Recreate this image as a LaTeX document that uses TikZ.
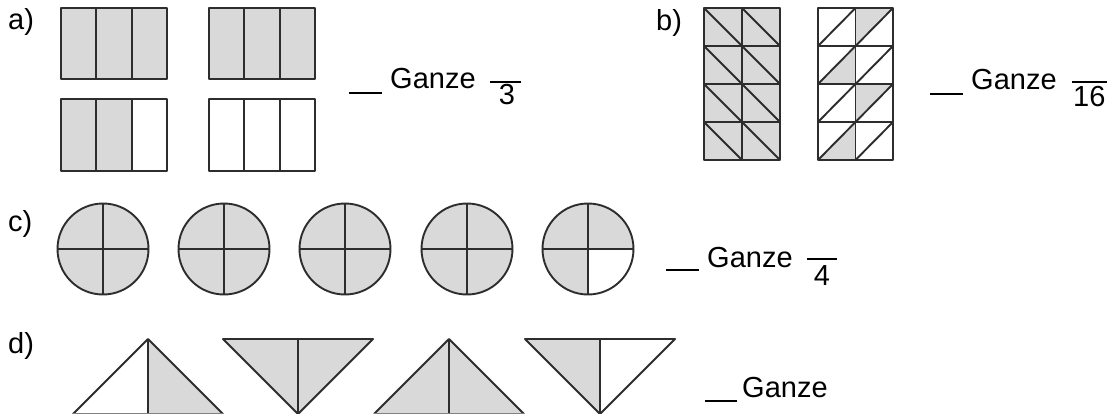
\documentclass[tikz,border=0pt]{standalone}
\usepackage{fontspec}
\usetikzlibrary{calc}
\setmainfont{Liberation Sans}
\definecolor{shade}{RGB}{217,217,217}
\definecolor{ink}{RGB}{45,45,45}
\begin{document}
\begin{tikzpicture}[x=1pt,y=-1pt,
  outl/.style={draw=ink,line width=1.9pt,line join=round},
  sh/.style={fill=shade},
  wh/.style={fill=white},
  lbl/.style={anchor=base west,inner sep=0pt,font=\fontsize{29}{31}\selectfont,text=black},
  blank/.style={draw=black,line width=2.6pt},
  fbar/.style={draw=black,line width=1.9pt}]
\useasboundingbox[fill=white] (0,0) rectangle (1107,414);
\clip (0,0) rectangle (1107,414);
% ---------- a) ----------
\node[lbl] (la) at (8,30) {a)};
\def\w{35.333}
% top row: both fully shaded
\foreach \x in {61,209}{
  \fill[sh] (\x,8) rectangle ++(106,71);
  \foreach \i in {1,2} \draw[outl] (\x+\i*\w,8) -- (\x+\i*\w,79);
  \draw[outl] (\x,8) rectangle ++(106,71);
}
% bottom left: 2 of 3 shaded
\fill[sh] (61,99) rectangle (61+2*\w,171);
\foreach \i in {1,2} \draw[outl] (61+\i*\w,99) -- (61+\i*\w,171);
\draw[outl] (61,99) rectangle (167,171);
% bottom right: none shaded
\foreach \i in {1,2} \draw[outl] (209+\i*\w,99) -- (209+\i*\w,171);
\draw[outl] (209,99) rectangle (315,171);
\draw[blank] (349,93) -- (382,93);
\node[lbl] (ga) at (390,89) {Ganze};
\draw[fbar] (490,82) -- (521,82);
\node[lbl,anchor=base] (da) at (507,105) {3};
% ---------- b) ----------
\node[lbl] (lb) at (656,31) {b)};
% left grid: all shaded, diagonals "\"
\fill[sh] (704,8) rectangle (780,160);
\foreach \r in {0,1,2,3}{
  \foreach \c in {0,1}{
    \draw[outl] (704+\c*38,8+\r*38) -- (704+\c*38+38,8+\r*38+38);
  }
}
\foreach \r in {1,2,3} \draw[outl] (704,8+\r*38) -- (780,8+\r*38);
\draw[outl] (742,8) -- (742,160);
\draw[outl] (704,8) rectangle (780,160);
% right grid: diagonals "/", 4 triangles shaded
\def\bw{37.5}
\fill[sh] (818+\bw,8) -- (818+2*\bw,8) -- (818+\bw,46) -- cycle;
\fill[sh] (818+\bw,46) -- (818+\bw,84) -- (818,84) -- cycle;
\fill[sh] (818+\bw,84) -- (818+2*\bw,84) -- (818+\bw,122) -- cycle;
\fill[sh] (818+\bw,122) -- (818+\bw,160) -- (818,160) -- cycle;
\foreach \r in {0,1,2,3}{
  \foreach \c in {0,1}{
    \draw[outl] (818+\c*\bw,8+\r*38+38) -- (818+\c*\bw+\bw,8+\r*38);
  }
}
\foreach \r in {1,2,3} \draw[outl] (818,8+\r*38) -- (893,8+\r*38);
\draw[outl] (818+\bw,8) -- (818+\bw,160);
\draw[outl] (818,8) rectangle (893,160);
\draw[blank] (930,94) -- (963,94);
\node[lbl] (gb) at (971,90) {Ganze};
\draw[fbar] (1072,82) -- (1107,82);
\node[lbl] (db) at (1073,107) {16};
% ---------- c) ----------
\node[lbl] (lc) at (8,231) {c)};
\foreach \cx [count=\k] in {103,224,345,467,588}{
  \coordinate (c\k) at (\cx,249);
  \fill[sh] (c\k) circle[radius=45.5];
}
\fill[wh] (c5) -- ++(45.5,0) arc[start angle=0,end angle=90,radius=45.5] -- cycle;
\foreach \k in {1,...,5}{
  \draw[outl] ($(c\k)+(-45.5,0)$) -- ++(91,0);
  \draw[outl] ($(c\k)+(0,-45.5)$) -- ++(0,91);
  \draw[outl] (c\k) circle[radius=45.5];
}
\draw[blank] (666,270) -- (699,270);
\node[lbl] (gc) at (707,267) {Ganze};
\draw[fbar] (807,259) -- (837,259);
\node[lbl,anchor=base] (dc) at (822,285) {4};
% ---------- d) ----------
\node[lbl] (ld) at (8,353) {d)};
% triangle 1 (up): right half shaded
\fill[sh] (148,339) -- (223,414) -- (148,414) -- cycle;
\draw[outl] (73,414) -- (148,339) -- (223,414);
\draw[outl] (148,339) -- (148,414);
% triangle 2 (down): all shaded
\fill[sh] (223,339) -- (373,339) -- (298,414) -- cycle;
\draw[outl] (223,339) -- (373,339) -- (298,414) -- cycle;
\draw[outl] (298,339) -- (298,414);
% triangle 3 (up): all shaded
\fill[sh] (374,414) -- (449,339) -- (524,414) -- cycle;
\draw[outl] (374,414) -- (449,339) -- (524,414);
\draw[outl] (449,339) -- (449,414);
% triangle 4 (down): left half shaded
\fill[sh] (525,339) -- (600,339) -- (600,414) -- cycle;
\draw[outl] (525,339) -- (675,339) -- (600,414) -- cycle;
\draw[outl] (600,339) -- (600,414);
\draw[outl,draw=ink!60] (73,414) -- (223,414) (374,414) -- (524,414);
\draw[blank] (705,401) -- (737,401);
\node[lbl] (gd) at (742,397) {Ganze};
\end{tikzpicture}
\end{document}
